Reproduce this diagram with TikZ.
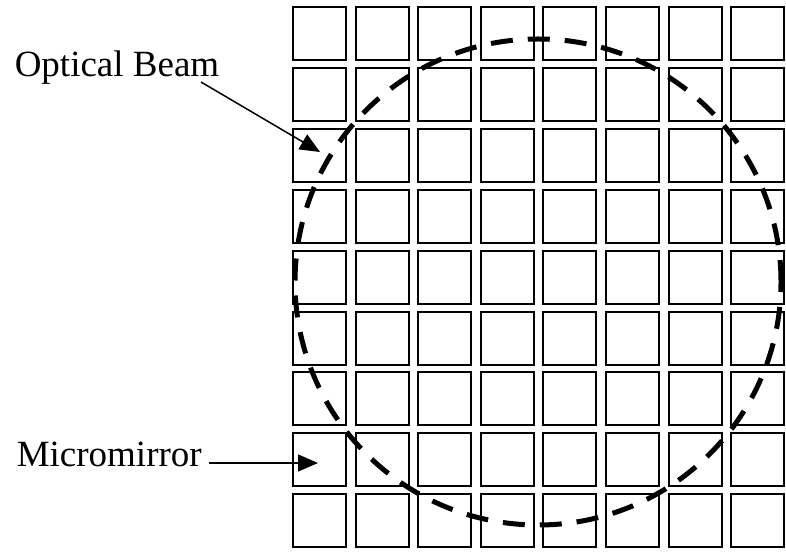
\documentclass[tikz,border=0pt]{standalone}
\usepackage{fontspec}
\setmainfont{Liberation Serif}
\usetikzlibrary{arrows.meta, positioning, calc}

\begin{document}
\begin{tikzpicture}[x=1pt,y=-1pt,->,>={Triangle[length=20pt,width=17pt]},line width=1.5pt]
	\tikzstyle{mirror}=[draw=black,line width=2pt,minimum size=53pt,inner sep=0pt]
	\tikzstyle{tagtext}=[font=\fontsize{37}{44}\selectfont,inner sep=0pt,anchor=base west]
	\useasboundingbox (0,0) rectangle (786,553);
	
	% micromirror array
	\foreach \r in {0,...,8}
		\foreach \c in {0,...,7}
			\node[mirror] (m-\r-\c) at ({319.5+62.6*\c},{33.5+60.9*\r}) {};
	
	% optical beam
	\draw[-,line width=5pt,dash pattern=on 22pt off 15pt] (538,282) circle (243pt);
	
	\node[tagtext] (beam) at (14,77) {Optical Beam};
	\node[tagtext] (micro) at (16,466) {Micromirror};
	\coordinate (beamtip) at (320,152);
	\coordinate (microtip) at (318,463);
	
	\draw ($(beam.base east)+(-19,5)$) -- (beamtip);
	\draw ($(micro.base east)+(7,-3)$) -- (microtip);
\end{tikzpicture}
\end{document}
